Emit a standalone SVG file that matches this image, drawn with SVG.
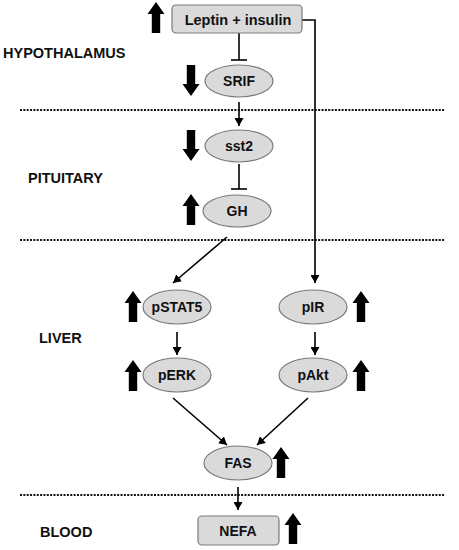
<svg xmlns="http://www.w3.org/2000/svg" width="459" height="550" viewBox="0 0 459 550">
<defs>
<style>
.node{fill:#dadada;stroke:#7a7a7a;stroke-width:1.2}
.nt{font-family:"Liberation Sans",Arial,sans-serif;font-weight:bold;font-size:14px;fill:#111;text-anchor:middle}
.lbl{font-family:"Liberation Sans",Arial,sans-serif;font-weight:bold;font-size:14.5px;fill:#111}
.con{stroke:#000;stroke-width:1.6;fill:none}
.dot{stroke:#111;stroke-width:2;stroke-dasharray:2 1.35;fill:none}
.big{fill:#000}
</style>
<marker id="ah" markerUnits="userSpaceOnUse" markerWidth="9" markerHeight="9" refX="8" refY="4.5" orient="auto">
<path d="M0,0 L8,4.5 L0,9 Z" fill="#000"/>
</marker>
<path id="up" d="M0,0 L8.5,12 L4.2,12 L4.2,31 L-4.2,31 L-4.2,12 L-8.5,12 Z"/>
<path id="down" d="M0,31 L8.5,19 L4.2,19 L4.2,0 L-4.2,0 L-4.2,19 L-8.5,19 Z"/>
</defs>
<rect width="459" height="550" fill="#fff"/>

<g id="separators">
<line class="dot" x1="20" y1="110" x2="445" y2="110"/>
<line class="dot" x1="20" y1="240" x2="445" y2="240"/>
<line class="dot" x1="20" y1="495" x2="445" y2="495"/>
</g>

<g id="labels">
<text class="lbl" x="3" y="58">HYPOTHALAMUS</text>
<text class="lbl" x="28" y="183">PITUITARY</text>
<text class="lbl" x="39" y="343">LIVER</text>
<text class="lbl" x="40" y="537">BLOOD</text>
</g>

<g id="connectors">
<line class="con" x1="239" y1="33" x2="239" y2="60"/>
<line class="con" x1="231" y1="60" x2="247" y2="60"/>
<line class="con" x1="239" y1="102" x2="239" y2="126" marker-end="url(#ah)"/>
<line class="con" x1="239" y1="164" x2="239" y2="189"/>
<line class="con" x1="231" y1="189" x2="247" y2="189"/>
<line class="con" x1="227" y1="237" x2="173" y2="283" marker-end="url(#ah)"/>
<polyline class="con" points="302,20 315,20 315,283" marker-end="url(#ah)"/>
<line class="con" x1="177" y1="332" x2="177" y2="355" marker-end="url(#ah)"/>
<line class="con" x1="315" y1="332" x2="315" y2="355" marker-end="url(#ah)"/>
<line class="con" x1="173" y1="398" x2="227" y2="445" marker-end="url(#ah)"/>
<line class="con" x1="308" y1="398" x2="257" y2="445" marker-end="url(#ah)"/>
<line class="con" x1="238" y1="487" x2="238" y2="510" marker-end="url(#ah)"/>
</g>

<g id="leptin">
<rect class="node" x="172" y="5" width="130" height="28" rx="4"/>
<text class="nt" x="238" y="25" style="font-size:14.5px">Leptin + insulin</text>
<use href="#up" class="big" x="156" y="2"/>
</g>
<g id="srif">
<ellipse class="node" cx="239" cy="81" rx="34" ry="16"/>
<text class="nt" x="239" y="86">SRIF</text>
<use href="#down" class="big" x="191" y="65"/>
</g>
<g id="sst2">
<ellipse class="node" cx="239" cy="146" rx="34" ry="16"/>
<text class="nt" x="239" y="151">sst2</text>
<use href="#down" class="big" x="191" y="130"/>
</g>
<g id="gh">
<ellipse class="node" cx="237" cy="211" rx="34" ry="16"/>
<text class="nt" x="237" y="216">GH</text>
<use href="#up" class="big" x="191" y="194"/>
</g>
<g id="pstat5">
<ellipse class="node" cx="177" cy="307" rx="34" ry="17"/>
<text class="nt" x="177" y="312">pSTAT5</text>
<use href="#up" class="big" x="133" y="291"/>
</g>
<g id="pir">
<ellipse class="node" cx="313" cy="307" rx="34" ry="17"/>
<text class="nt" x="313" y="312">pIR</text>
<use href="#up" class="big" x="361" y="291"/>
</g>
<g id="perk">
<ellipse class="node" cx="177" cy="375" rx="34" ry="17"/>
<text class="nt" x="177" y="380">pERK</text>
<use href="#up" class="big" x="133" y="360"/>
</g>
<g id="pakt">
<ellipse class="node" cx="313" cy="375" rx="34" ry="17"/>
<text class="nt" x="313" y="380">pAkt</text>
<use href="#up" class="big" x="361" y="360"/>
</g>
<g id="fas">
<ellipse class="node" cx="238" cy="463" rx="34" ry="17"/>
<text class="nt" x="238" y="468">FAS</text>
<use href="#up" class="big" x="281" y="447"/>
</g>
<g id="nefa">
<rect class="node" x="198" y="516" width="81" height="29" rx="4"/>
<text class="nt" x="238" y="536">NEFA</text>
<use href="#up" class="big" x="293" y="513"/>
</g>
</svg>
